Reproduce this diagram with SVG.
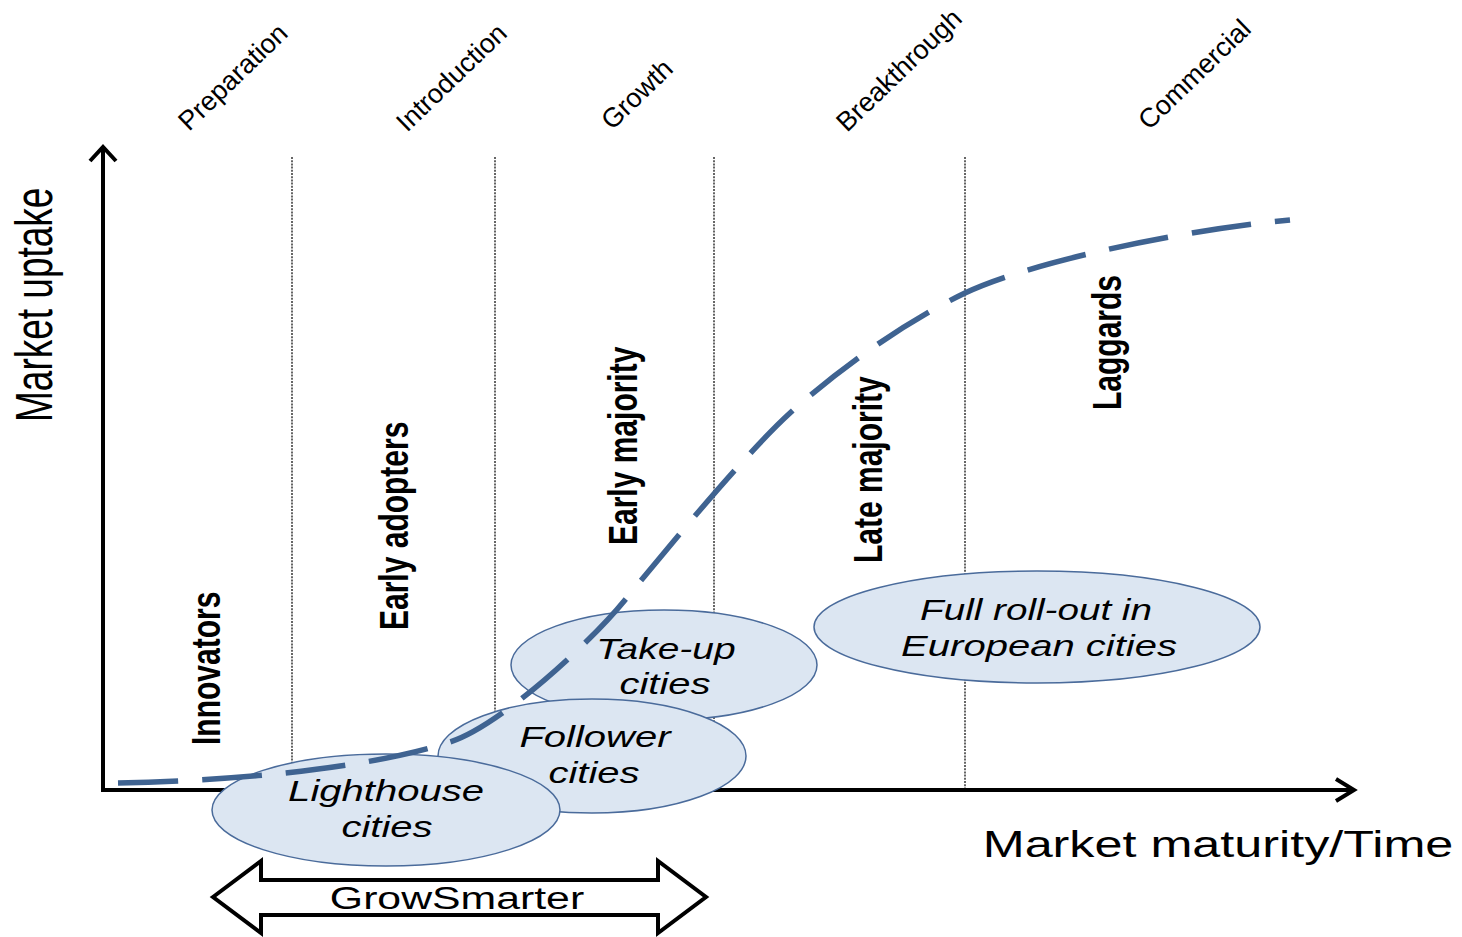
<svg xmlns="http://www.w3.org/2000/svg" width="1462" height="937" viewBox="0 0 1462 937">
<style>
text{font-family:"Liberation Sans",Arial,sans-serif;fill:#000}
.phase{font-size:27px}
.grp{font-size:30px;font-weight:bold}
.axl{font-size:37px}
.ell{fill:#dce6f2;stroke:#4a6b9b;stroke-width:1.5}
.et{font-size:29px;font-style:italic;text-anchor:middle}
.div{stroke:#333;stroke-width:1.5;stroke-dasharray:2 1.2;fill:none}
.axis{stroke:#000;stroke-width:4;fill:none}
.curve{stroke:#3f6391;stroke-width:5.5;fill:none;stroke-dasharray:60 24}
</style>
<g id="dividers">
<line class="div" x1="292" y1="157" x2="292" y2="790"/>
<line class="div" x1="495" y1="157" x2="495" y2="790"/>
<line class="div" x1="714" y1="157" x2="714" y2="790"/>
<line class="div" x1="965" y1="157" x2="965" y2="790"/>
</g>
<g id="axes">
<line class="axis" x1="103" y1="790" x2="103" y2="148"/>
<polyline class="axis" points="90,161 103,147 116,161"/>
<line class="axis" x1="101" y1="790" x2="1352" y2="790"/>
<polyline class="axis" points="1336,779 1354,790 1336,801"/>
</g>
<g id="phases">
<text class="phase" transform="translate(189,132) rotate(-44)">Preparation</text>
<text class="phase" transform="translate(407,133) rotate(-44)">Introduction</text>
<text class="phase" transform="translate(612,131) rotate(-44)">Growth</text>
<text class="phase" transform="translate(847,133) rotate(-44)">Breakthrough</text>
<text class="phase" transform="translate(1149,131) rotate(-44)">Commercial</text>
</g>
<g id="groups">
<text class="grp" transform="translate(220,745) scale(1.38,1) rotate(-90)">Innovators</text>
<text class="grp" transform="translate(408,630) scale(1.38,1) rotate(-90)">Early adopters</text>
<text class="grp" transform="translate(637,545) scale(1.38,1) rotate(-90)">Early majority</text>
<text class="grp" transform="translate(882,563) scale(1.38,1) rotate(-90)">Late majority</text>
<text class="grp" transform="translate(1121,410) scale(1.38,1) rotate(-90)">Laggards</text>
</g>
<g id="fullrollout">
<ellipse class="ell" cx="1037" cy="627" rx="223" ry="56"/>
<text class="et" transform="translate(1036,620) scale(1.38,1)" textLength="168" lengthAdjust="spacingAndGlyphs">Full roll-out in</text>
<text class="et" transform="translate(1039,656) scale(1.38,1)">European cities</text>
</g>
<g id="takeup">
<ellipse class="ell" cx="664" cy="665" rx="153" ry="55"/>
<text class="et" transform="translate(666,659) scale(1.38,1)" textLength="101" lengthAdjust="spacingAndGlyphs">Take-up</text>
<text class="et" transform="translate(665,694) scale(1.38,1)">cities</text>
</g>
<g id="follower">
<ellipse class="ell" cx="592" cy="756" rx="154" ry="57"/>
<text class="et" transform="translate(595,747) scale(1.38,1)">Follower</text>
<text class="et" transform="translate(594,783) scale(1.38,1)">cities</text>
</g>
<g id="lighthouse">
<ellipse class="ell" cx="386" cy="810" rx="174" ry="56"/>
<text class="et" transform="translate(386,801) scale(1.38,1)">Lighthouse</text>
<text class="et" transform="translate(387,837) scale(1.38,1)">cities</text>
</g>
<g id="connectors">
<path class="curve" d="M118,783 C260,780 380,765 450,742 C500,726 590,643 625,600 C665,551 745,454 790,413 C840,368 905,322 965,293 C1040,258 1200,228 1290,220"/>
</g>
<g id="growsmarter">
<polygon points="213,897 261,861 261,880 658,880 658,861 706,897 658,933 658,915 261,915 261,933" fill="#fff" stroke="#000" stroke-width="4" stroke-linejoin="miter"/>
<text transform="translate(457,909) scale(1.38,1)" font-size="31" text-anchor="middle">GrowSmarter</text>
</g>
<g id="axislabels">
<text class="axl" transform="translate(52,422) scale(1.38,1) rotate(-90)">Market uptake</text>
<text class="axl" transform="translate(1218,857) scale(1.36,1)" font-size="36" text-anchor="middle">Market maturity/Time</text>
</g>
</svg>
